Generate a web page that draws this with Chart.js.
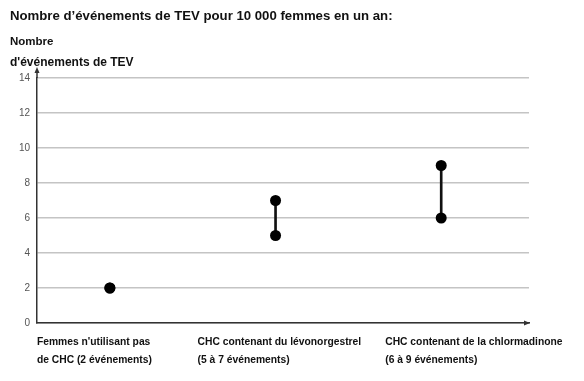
<!DOCTYPE html>
<html>
<head>
<meta charset="utf-8">
<script src="https://cdn.jsdelivr.net/npm/chart.js@4"></script>
<style>
  html, body { margin: 0; padding: 0; background: #fff; }
  #wrap { width: 584px; height: 381px; position: relative; }
</style>
</head>
<body>
<div id="wrap"><canvas id="tevChart"></canvas></div>
<script>
// categories (x) and the event range for each one
const categories = [
    ["Femmes n'utilisant pas", "de CHC (2 événements)"],
    ["CHC contenant du lévonorgestrel", "(5 à 7 événements)"],
    ["CHC contenant de la chlormadinone", "(6 à 9 événements)"]
];
const lowValues = [2, 5, 6];
const highValues = [2, 7, 9];
const yTicks = [0, 2, 4, 6, 8, 10, 12, 14];

const chartTitle = "Nombre d’événements de TEV pour 10 000 femmes en un an:";
const yTitle = ["Nombre", "d'événements de TEV"];

const FONT = "'Liberation Sans', Arial, sans-serif";
const AXIS_COLOR = "#333";
// how far left of its point each category label starts (px)
const labelShift = [-73, -78, -56];

// titles, category labels and arrow heads on both axes
const decorPlugin = {
    id: "decor",
    afterDraw(chart) {
        const ctx = chart.ctx;
        const area = chart.chartArea;
        const xScale = chart.scales.x;
        ctx.save();
        ctx.fillStyle = "#111";
        ctx.textAlign = "left";
        ctx.textBaseline = "alphabetic";
        ctx.font = "bold 13.2px " + FONT;
        ctx.fillText(chartTitle, 10, 20);
        ctx.font = "bold 11.5px " + FONT;
        ctx.fillText(yTitle[0], 10, 45);
        ctx.font = "bold 12px " + FONT;
        ctx.fillText(yTitle[1], 10, 66);

        // category labels under the x axis
        ctx.font = "bold 10.3px " + FONT;
        categories.forEach((lines, i) => {
            const x = xScale.getPixelForValue(i) + labelShift[i];
            lines.forEach((line, j) => {
                ctx.fillText(line, x, area.bottom + 22 + j * 18);
            });
        });

        ctx.strokeStyle = AXIS_COLOR;
        ctx.fillStyle = AXIS_COLOR;
        ctx.lineWidth = 1.5;
        // y axis goes a bit above the plot
        ctx.beginPath();
        ctx.moveTo(area.left, area.top);
        ctx.lineTo(area.left, area.top - 8);
        ctx.stroke();
        ctx.beginPath();
        ctx.moveTo(area.left, area.top - 11);
        ctx.lineTo(area.left - 2.5, area.top - 5);
        ctx.lineTo(area.left + 2.5, area.top - 5);
        ctx.closePath();
        ctx.fill();
        // x axis arrow
        ctx.beginPath();
        ctx.moveTo(area.right + 1, area.bottom);
        ctx.lineTo(area.right - 5, area.bottom - 2.5);
        ctx.lineTo(area.right - 5, area.bottom + 2.5);
        ctx.closePath();
        ctx.fill();
        ctx.restore();
    }
};

const rangeData = categories.map((c, i) => ({ x: i, y: [lowValues[i], highValues[i]] }));
const lowPoints = categories.map((c, i) => ({ x: i, y: lowValues[i] }));
const highPoints = categories.map((c, i) => ({ x: i, y: highValues[i] }));

new Chart(document.getElementById("tevChart"), {
    type: "bar",
    data: {
        datasets: [
            {
                type: "bar",
                data: rangeData,
                backgroundColor: "#111",
                barThickness: 2,
                borderWidth: 0,
                order: 2
            },
            {
                type: "line",
                data: lowPoints,
                showLine: false,
                pointRadius: 5.5,
                pointBackgroundColor: "#000",
                pointBorderWidth: 0,
                order: 1
            },
            {
                type: "line",
                data: highPoints,
                showLine: false,
                pointRadius: 5.5,
                pointBackgroundColor: "#000",
                pointBorderWidth: 0,
                order: 0
            }
        ]
    },
    options: {
        responsive: true,
        maintainAspectRatio: false,
        animation: false,
        layout: { padding: { top: 78, right: 55, left: 0, bottom: 0 } },
        plugins: {
            legend: { display: false },
            tooltip: { enabled: false }
        },
        scales: {
            x: {
                type: "linear",
                offset: false,
                min: -0.44,
                max: 2.53,
                afterBuildTicks: (axis) => {
                    axis.ticks = categories.map((c, i) => ({ value: i }));
                },
                afterFit: (axis) => {
                    axis.height = 58;
                    axis.paddingLeft = 0;
                    axis.paddingRight = 0;
                },
                grid: { display: false, drawTicks: false, offset: false },
                border: { color: AXIS_COLOR, width: 1.5 },
                ticks: { display: false }
            },
            y: {
                min: 0,
                max: 14,
                afterBuildTicks: (axis) => {
                    axis.ticks = yTicks.map((v) => ({ value: v }));
                },
                afterFit: (axis) => { axis.width = 37; },
                grid: { color: "#c4c4c4", lineWidth: 1.5, drawTicks: false },
                border: { color: AXIS_COLOR, width: 1.5 },
                ticks: {
                    padding: 7,
                    color: "#555",
                    font: { family: FONT, size: 10 }
                }
            }
        }
    },
    plugins: [decorPlugin]
});
</script>
</body>
</html>
